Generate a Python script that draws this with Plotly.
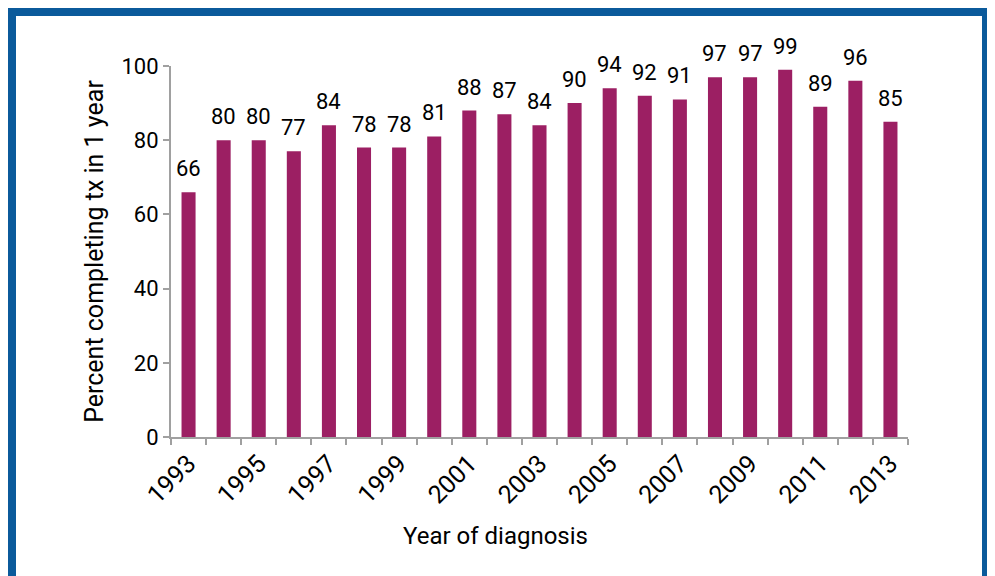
import plotly.graph_objects as go

years = list(range(1993, 2014))
percent = [66, 80, 80, 77, 84, 78, 78, 81, 88, 87, 84, 90, 94, 92, 91, 97, 97, 99, 89, 96, 85]
label_years = list(range(1993, 2014, 2))
y_ticks = [0, 20, 40, 60, 80, 100]

# the page adds an 8px body margin, so the figure is drawn 8px smaller
OFF = 8
W, H = 995 - OFF, 576 - OFF
L, T = 171 - OFF, 66 - OFF
R, B = W - (908 - OFF), H - (437 - OFF)
FONT = "Roboto, Liberation Sans, sans-serif"
BAR = "#9c1f63"
FRAME = "#0b5a9b"
AXIS = "#a0a0a0"


# page pixel -> paper helpers for the decorations
def px(x):
    return (x - OFF - L) / (W - L - R)


def py(y):
    return (H - B - (y - OFF)) / (H - T - B)


fig = go.Figure()

fig.add_trace(go.Bar(
    x=years,
    y=percent,
    marker_color=BAR,
    marker_line_width=0,
    width=0.4,
))

# value labels sit a bit higher above the bars than plotly's outside text
for yr, v in zip(years, percent):
    fig.add_annotation(
        x=yr, y=v, text=str(v), showarrow=False,
        xanchor="center", yanchor="bottom", yshift=9,
        font=dict(size=22, color="black", family=FONT),
    )

fig.update_xaxes(
    range=[1992.5, 2013.5],
    tickmode="array",
    tickvals=label_years,
    ticktext=[str(y) for y in label_years],
    tickangle=-45,
    ticks="",
    showline=True,
    linecolor=AXIS,
    linewidth=2,
    tickfont=dict(size=25, family=FONT, color="black"),
    minor=dict(tick0=1992.5, dtick=1, ticks="outside", ticklen=6,
               tickcolor=AXIS, tickwidth=2),
    showgrid=False,
    fixedrange=True,
)
fig.update_yaxes(
    range=[0, 100],
    tickmode="array",
    tickvals=y_ticks,
    ticks="outside",
    ticklen=6,
    tickcolor=AXIS,
    tickwidth=2,
    showline=True,
    linecolor=AXIS,
    linewidth=2,
    showgrid=False,
    zeroline=False,
    tickfont=dict(size=22, family=FONT, color="black"),
    title=dict(text="Percent completing tx in 1 year",
               font=dict(size=25, family=FONT, color="black"), standoff=11),
    fixedrange=True,
)

# x title sits left of plot centre in the original
fig.add_annotation(
    text="Year of diagnosis", x=px(495), y=py(536),
    xref="paper", yref="paper", showarrow=False,
    xanchor="center", yanchor="middle",
    font=dict(size=24, family=FONT, color="black"),
)

# blue frame
fig.add_shape(type="rect", xref="paper", yref="paper",
              x0=px(12), x1=px(986), y0=py(12), y1=py(620),
              line=dict(color=FRAME, width=8), fillcolor="rgba(0,0,0,0)")

fig.update_layout(
    width=W, height=H,
    margin=dict(l=L, r=R, t=T, b=B, autoexpand=False),
    plot_bgcolor="white",
    paper_bgcolor="white",
    showlegend=False,
    font=dict(family=FONT),
)

fig.write_html("out.html")
